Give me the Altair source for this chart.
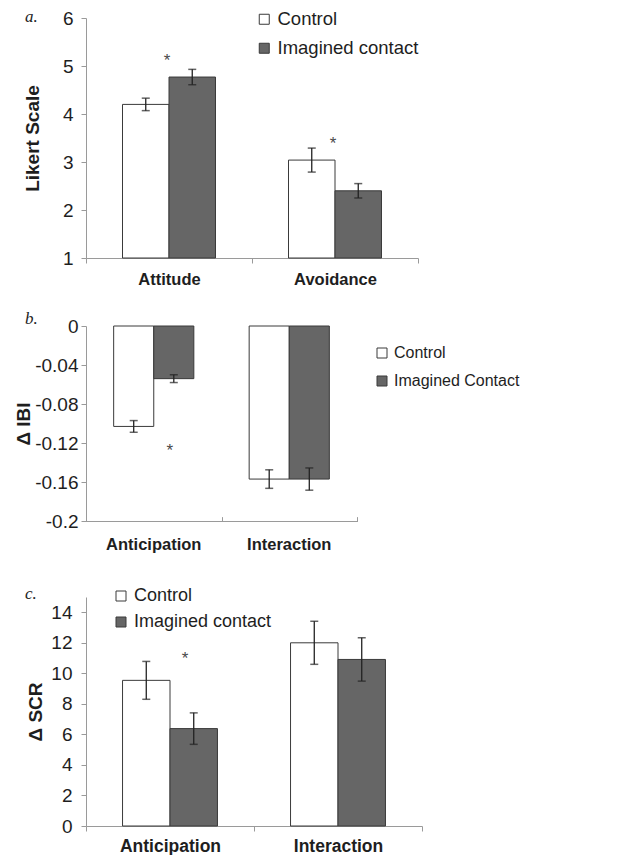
import altair as alt
import pandas as pd

FONT = "Liberation Sans"

# ---------- data ----------
groups_a = ["Control", "Imagined contact"]
cats_a = ["Attitude", "Avoidance"]
ctrl_a = [4.20, 3.04]
ctrl_a_err = [0.13, 0.25]
imag_a = [4.77, 2.40]
imag_a_err = [0.16, 0.15]
star_a_cat = ["Attitude", "Avoidance"]
star_a_y = [5.19, 3.46]
yticks_a = [1, 2, 3, 4, 5, 6]

groups_b = ["Control", "Imagined Contact"]
cats_b = ["Anticipation", "Interaction"]
ctrl_b = [-0.103, -0.157]
ctrl_b_err = [0.006, 0.0095]
imag_b = [-0.054, -0.157]
imag_b_err = [0.004, 0.0114]
star_b_cat = ["Anticipation"]
star_b_y = [-0.1245]
yticks_b = [0, -0.04, -0.08, -0.12, -0.16, -0.2]

groups_c = ["Control", "Imagined contact"]
cats_c = ["Anticipation", "Interaction"]
ctrl_c = [9.54, 12.0]
ctrl_c_err = [1.24, 1.41]
imag_c = [6.38, 10.91]
imag_c_err = [1.03, 1.42]
star_c_cat = ["Anticipation"]
star_c_y = [11.2]
yticks_c = [0, 2, 4, 6, 8, 10, 12, 14]


def make_df(cats, groups, ctrl, ctrl_err, imag, imag_err):
    rows = []
    for i, c in enumerate(cats):
        rows.append(dict(cat=c, grp=groups[0], val=ctrl[i],
                         lo=ctrl[i] - ctrl_err[i], hi=ctrl[i] + ctrl_err[i]))
        rows.append(dict(cat=c, grp=groups[1], val=imag[i],
                         lo=imag[i] - imag_err[i], hi=imag[i] + imag_err[i]))
    return pd.DataFrame(rows)


AXIS_GRAY = "#9a9a9a"
TEXT = "#1e1e1e"


def panel(df, cats, groups, ydom, yvals, ytitle, title_x, ylab_pad, width, height,
          pad_outer, base_val, leg_x, leg_y, leg_font, leg_gap,
          letter, letter_x, letter_y, star_df, star_dx, star_offset,
          xlab_font, xlab_pad, top_axis=False, ylabel_expr=None, spacer_y=None):
    yscale = alt.Scale(domain=ydom, nice=False, zero=False)
    yaxis_kw = dict(values=yvals, title=ytitle, titleFont=FONT, titleFontSize=19,
                    titleFontWeight="bold", titleColor=TEXT, titleX=title_x,
                    titleY=height / 2, titleAngle=270, titleAlign="center",
                    titleBaseline="middle",
                    labelFont=FONT, labelFontSize=19, labelColor=TEXT,
                    labelPadding=ylab_pad, tickSize=5, tickColor=AXIS_GRAY,
                    domainColor=AXIS_GRAY, grid=False)
    if ylabel_expr:
        yaxis_kw["labelExpr"] = ylabel_expr
    yaxis = alt.Axis(**yaxis_kw)
    xscale = alt.Scale(paddingInner=0, paddingOuter=0)
    oscale = alt.Scale(paddingInner=0, paddingOuter=pad_outer)

    if top_axis:
        lab_axis = alt.Axis(title=None, domain=False, ticks=False,
                            labelFont=FONT, labelFontSize=xlab_font,
                            labelFontWeight="bold", labelColor=TEXT,
                            labelPadding=xlab_pad, labelAngle=0)
        line_axis = alt.Axis(title=None, labels=False, domain=True, ticks=True,
                             tickBand="extent", tickSize=4, tickColor=AXIS_GRAY,
                             domainColor=AXIS_GRAY, offset=-height)
    else:
        lab_axis = alt.Axis(title=None, domain=True, ticks=True,
                            tickBand="extent", tickSize=5, tickColor=AXIS_GRAY,
                            domainColor=AXIS_GRAY,
                            labelFont=FONT, labelFontSize=xlab_font,
                            labelFontWeight="bold", labelColor=TEXT,
                            labelPadding=xlab_pad, labelAngle=0)
        line_axis = lab_axis

    bars = alt.Chart(df).mark_bar(stroke="#3a3a3a", strokeWidth=1, opacity=1).encode(
        x=alt.X("cat:N", sort=cats, scale=xscale, axis=lab_axis),
        xOffset=alt.XOffset("grp:N", sort=groups, scale=oscale),
        y=alt.Y("val:Q", scale=yscale, axis=yaxis),
        y2=alt.datum(base_val),
        fill=alt.Fill("grp:N", sort=groups,
                      scale=alt.Scale(domain=groups, range=["#ffffff", "#666666"]),
                      legend=alt.Legend(orient="none", legendX=leg_x, legendY=leg_y,
                                        title=None, direction="vertical",
                                        symbolType="square", symbolSize=100,
                                        symbolStrokeColor="#3a3a3a",
                                        symbolStrokeWidth=1, symbolOpacity=1,
                                        labelFont=FONT, labelFontSize=leg_font,
                                        labelColor=TEXT, labelOffset=4,
                                        rowPadding=leg_gap, padding=0)),
    )
    err_x = alt.X("cat:N", sort=cats, scale=xscale, axis=line_axis)
    rules = alt.Chart(df).mark_rule(color="#222", strokeWidth=1.3).encode(
        x=err_x,
        xOffset=alt.XOffset("grp:N", sort=groups, scale=oscale),
        y=alt.Y("lo:Q", scale=yscale, axis=yaxis),
        y2="hi:Q",
    )
    caps_lo = alt.Chart(df).mark_tick(color="#222", size=8, thickness=1.5).encode(
        x=err_x,
        xOffset=alt.XOffset("grp:N", sort=groups, scale=oscale),
        y=alt.Y("lo:Q", scale=yscale, axis=yaxis),
    )
    caps_hi = alt.Chart(df).mark_tick(color="#222", size=8, thickness=1.5).encode(
        x=err_x,
        xOffset=alt.XOffset("grp:N", sort=groups, scale=oscale),
        y=alt.Y("hi:Q", scale=yscale, axis=yaxis),
    )
    star_enc = dict(
        x=alt.X("cat:N", sort=cats, scale=xscale,
                axis=None if top_axis else lab_axis),
        y=alt.Y("y:Q", scale=yscale, axis=yaxis),
    )
    if star_offset is not None:
        star_enc["xOffset"] = alt.XOffset("grp:N", sort=groups, scale=oscale)
    stars = alt.Chart(star_df).mark_text(
        text="*", font=FONT, fontSize=17, color="#4a4a4a",
        baseline="middle", dx=star_dx, dy=4).encode(**star_enc)

    letter_df = pd.DataFrame({"t": [letter]})
    let = alt.Chart(letter_df).mark_text(
        font="Liberation Serif", fontStyle="italic", fontSize=17, color=TEXT,
        align="left", baseline="middle").encode(
        x=alt.value(letter_x), y=alt.value(letter_y), text="t:N")
    layers = [bars, rules, caps_lo, caps_hi, stars, let]
    if spacer_y is not None:
        sp = alt.Chart(letter_df).mark_text(
            font="Liberation Serif", fontSize=17, color="#ffffff", opacity=0,
            align="left", baseline="middle").encode(
            x=alt.value(letter_x), y=alt.value(spacer_y), text="t:N")
        layers.append(sp)

    layer = alt.layer(*layers).properties(width=width, height=height)
    if top_axis:
        layer = layer.resolve_axis(x="independent")
    return layer


df_a = make_df(cats_a, groups_a, ctrl_a, ctrl_a_err, imag_a, imag_a_err)
df_b = make_df(cats_b, groups_b, ctrl_b, ctrl_b_err, imag_b, imag_b_err)
df_c = make_df(cats_c, groups_c, ctrl_c, ctrl_c_err, imag_c, imag_c_err)

star_a = pd.DataFrame({"cat": star_a_cat, "y": star_a_y})
star_b = pd.DataFrame({"cat": star_b_cat, "y": star_b_y, "grp": [groups_b[1]]})
star_c = pd.DataFrame({"cat": star_c_cat, "y": star_c_y})

pa = panel(df_a, cats_a, groups_a, [1, 6], yticks_a, "Likert Scale", -54, 8,
           332, 240, 0.785, 1, 169, -8, 18.5, 10,
           "a.", -61, -1, star_a, -2, None, 16.5, 8)
pb = panel(df_b, cats_b, groups_b, [-0.2, 0], yticks_b, "Δ IBI", -63, 3,
           271, 195, 0.69, 0, 288, 19, 16, 12,
           "b.", -61, -7, star_b, -4, True, 16.5, 15, top_axis=True,
           ylabel_expr="datum.value == 0 ? '0' : '-' + format(abs(datum.value), '')")
pc = panel(df_c, cats_c, groups_c, [0, 15], yticks_c, "Δ SCR", -51, 9,
           336, 229, 0.77, 0, 26, -10, 18, 8,
           "c.", -61, -3, star_c, 15, None, 17.5, 6, spacer_y=-13)

chart = alt.vconcat(pa, pb, pc, spacing=22).resolve_scale(
    fill="independent", xOffset="independent", x="independent", y="independent"
).resolve_legend(fill="independent").properties(
    padding={"left": 6, "top": 0, "right": 0, "bottom": 0},
    background="white",
).configure_view(stroke=None)

chart.save("out.html", embed_options={"renderer": "svg", "actions": False})
